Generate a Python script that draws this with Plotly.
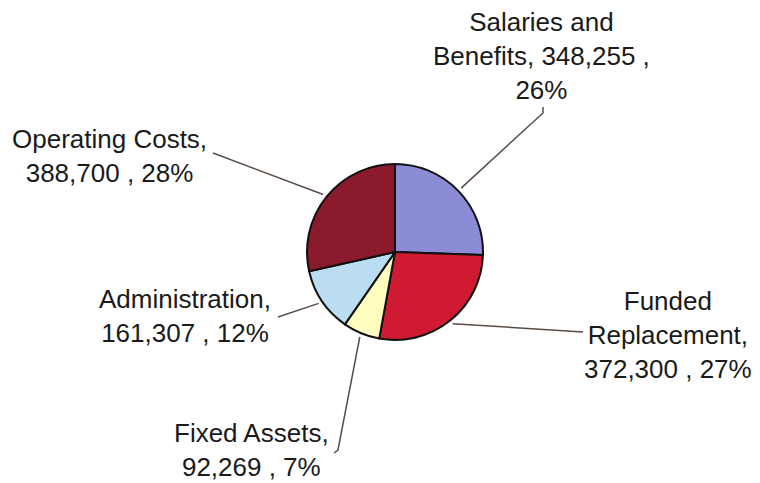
import math
import plotly.graph_objects as go

categories = ["Salaries and Benefits", "Funded Replacement", "Fixed Assets",
              "Administration", "Operating Costs"]
values = [348255, 372300, 92269, 161307, 388700]
pct_labels = ["26%", "27%", "7%", "12%", "28%"]
label_lines = [["Salaries and", "Benefits, {v} ,", "{p}"],
               ["Funded", "Replacement,", "{v} , {p}"],
               ["Fixed Assets,", "{v} , {p}"],
               ["Administration,", "{v} , {p}"],
               ["Operating Costs,", "{v} , {p}"]]
colors = ["#8C8CD6", "#CF1A31", "#FFFDC0", "#BADDF2", "#8A1A2C"]

# page body has an 8px margin: figure is placed at (8, 8) in the window
OFF = 8
W, H = 760 - OFF, 483 - OFF
CX, CY, R = 395, 252, 88   # window px

# label block centres and leader-line end points (window px), layout only
label_pos = [(541, 56), (668, 335), (251, 450), (185, 316), (110, 156)]
line_end = [[(543, 113), (543, 107)],
            [(583, 332)],
            [(338, 450), (334, 453)],
            [(278, 317)],
            [(213, 153)]]


def px(x, y):
    return (x - OFF) / W, 1 - (y - OFF) / H


total = sum(values)
fig = go.Figure(go.Pie(
    labels=categories, values=values, sort=False, direction="clockwise",
    rotation=0, textinfo="none", hoverinfo="label+value+percent",
    marker=dict(colors=colors, line=dict(color="#111111", width=2)),
    domain=dict(x=[(CX - R - OFF) / W, (CX + R - OFF) / W],
                y=[1 - (CY + R - OFF) / H, 1 - (CY - R - OFF) / H]),
    showlegend=False,
))

shapes = []
annotations = []
cum = 0
for i, v in enumerate(values):
    frac = v / total
    mid = (cum + frac / 2) * 2 * math.pi
    cum += frac
    sx = CX + (R + 4) * math.sin(mid)
    sy = CY - (R + 4) * math.cos(mid)
    pts = [(sx, sy)] + line_end[i]
    path = "M " + " L ".join("%.4f,%.4f" % px(x, y) for x, y in pts)
    shapes.append(dict(type="path", xref="paper", yref="paper", path=path,
                       line=dict(color="#5a4c44", width=1.5)))
    txt = "<br>".join(l.format(v=f"{v:,}", p=pct_labels[i])
                      for l in label_lines[i])
    lx, ly = px(*label_pos[i])
    annotations.append(dict(x=lx, y=ly, xref="paper", yref="paper", text=txt,
                            showarrow=False, xanchor="center", yanchor="middle",
                            align="center",
                            font=dict(family="Liberation Sans, Arial", size=26,
                                      color="#1a1a1a")))

fig.update_layout(width=W, height=H, margin=dict(l=0, r=0, t=0, b=0),
                  paper_bgcolor="white", plot_bgcolor="white",
                  shapes=shapes, annotations=annotations)
fig.write_html("out.html")
